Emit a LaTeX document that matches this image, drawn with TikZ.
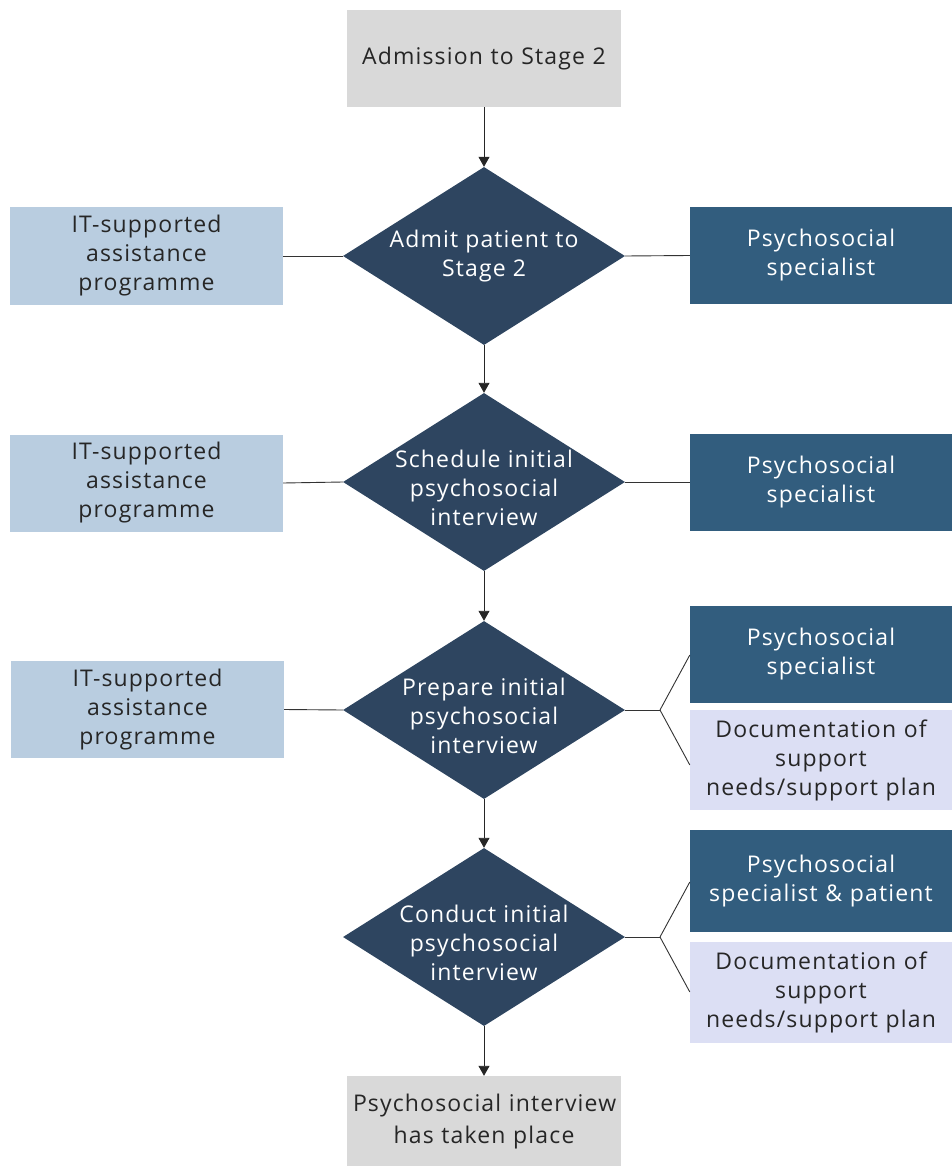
\documentclass[tikz,border=0pt]{standalone}
\usepackage{fontspec}
\setmainfont[LetterSpace=5]{Open Sans}
\usetikzlibrary{shapes.geometric,arrows.meta}
\definecolor{grayfill}{HTML}{D9D9D9}
\definecolor{itblue}{HTML}{B9CDE0}
\definecolor{specblue}{HTML}{325D7E}
\definecolor{decision}{HTML}{2E4560}
\definecolor{docfill}{HTML}{DCDFF4}
% three-line decision text sits a little below the diamond's centre
\newcommand{\lowtext}[1]{\raisebox{-15pt}[0pt][0pt]{\begin{tabular}{@{}c@{}}#1\end{tabular}}}
\begin{document}
\begin{tikzpicture}[x=1pt,y=-1pt,
  txt/.style={font=\fontsize{23}{29}\selectfont, align=center, inner sep=0pt, text width=#1},
  txt/.default=262pt,
  endbox/.style={fill=grayfill, minimum width=274pt, txt, text=black!85},
  itbox/.style={fill=itblue, minimum width=273pt, minimum height=97pt, txt, text=black!85},
  specbox/.style={fill=specblue, minimum width=262pt, minimum height=97pt, txt, text=white},
  docbox/.style={fill=docfill, minimum width=262pt, minimum height=100pt, txt, text=black!85},
  decide/.style={diamond, fill=decision, minimum width=282pt, minimum height=178pt, aspect=1.58, inner sep=-40pt, text=white, font=\fontsize{23}{29}\selectfont, align=center},
  flow/.style={-{Triangle[length=10pt,width=11pt]}, line width=0.9pt, black!85},
  link/.style={line width=0.9pt, black!80}]
\useasboundingbox (0,0) rectangle (952,1166);

% main column
\node[endbox, minimum height=97pt] (start) at (484,58.5) {Admission to Stage 2};
\node[decide] (d1) at (484,256) {Admit patient to\\Stage 2};
\node[decide] (d2) at (484,482) {\lowtext{Schedule initial\\psychosocial\\interview}};
\node[decide] (d3) at (484,710) {\lowtext{Prepare initial\\psychosocial\\interview}};
\node[decide] (d4) at (484,937) {\lowtext{Conduct initial\\psychosocial\\interview}};
\node[endbox, minimum height=92pt, font=\fontsize{23}{32}\selectfont] (stop) at (484,1122) {Psychosocial interview\\has taken place};

% left column
\node[itbox] (it1) at (146.5,256) {IT-supported\\assistance\\programme};
\node[itbox] (it2) at (146.5,483) {IT-supported\\assistance\\programme};
\node[itbox] (it3) at (147.5,709.5) {IT-supported\\assistance\\programme};

% right column
\node[specbox] (sp1) at (821,255.5) {Psychosocial\\specialist};
\node[specbox] (sp2) at (821,482) {Psychosocial\\specialist};
\node[specbox] (sp3) at (821,654) {Psychosocial\\specialist};
\node[docbox] (doc3) at (821,760) {Documentation of\\support\\needs/support plan};
\node[specbox, minimum height=102pt] (sp4) at (821,881) {Psychosocial\\specialist \& patient};
\node[docbox, minimum height=101pt] (doc4) at (821,992.5) {Documentation of\\support\\needs/support plan};

% flow arrows
\draw[flow] (start.south) -- (d1.north);
\draw[flow] (d1.south) -- (d2.north);
\draw[flow] (d2.south) -- (d3.north);
\draw[flow] (d3.south) -- (d4.north);
\draw[flow] (d4.south) -- (stop.north);

% side links
\draw[link] (d1.west) -- (it1.east);
\draw[link] (d2.west) -- (it2.east);
\draw[link] (d3.west) -- (it3.east);
\draw[link] (d1.east) -- (sp1.west);
\draw[link] (d2.east) -- (sp2.west);

% forked links
\coordinate (f3) at (660,710);
\coordinate (f4) at (660,937);
\draw[link] (d3.east) -- (f3);
\draw[link] (f3) -- ([yshift=-55pt]f3 -| sp3.west);
\draw[link] (f3) -- ([yshift=55pt]f3 -| doc3.west);
\draw[link] (d4.east) -- (f4);
\draw[link] (f4) -- ([yshift=-55pt]f4 -| sp4.west);
\draw[link] (f4) -- ([yshift=55pt]f4 -| doc4.west);
\end{tikzpicture}
\end{document}
